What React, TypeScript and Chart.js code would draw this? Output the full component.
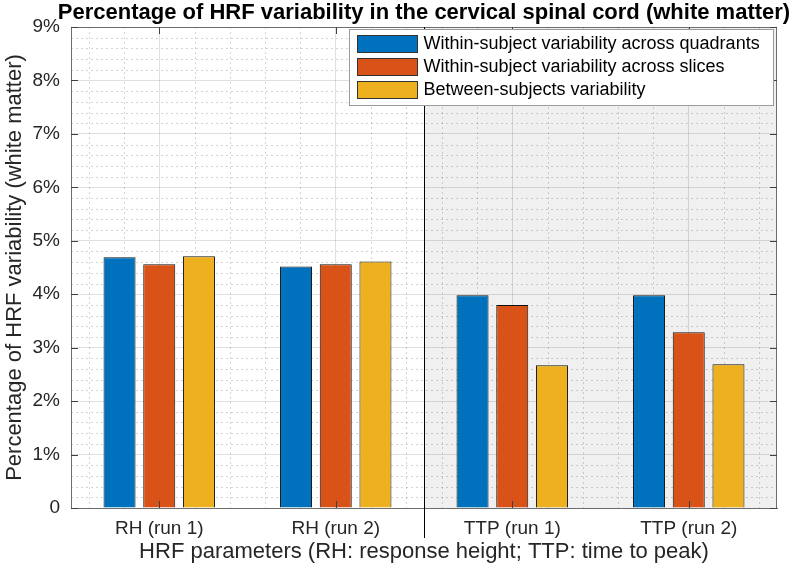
import React, { useEffect, useRef } from 'react';
import { Chart, registerables } from 'chart.js';

Chart.register(...registerables);

const categories = ['RH (run 1)', 'RH (run 2)', 'TTP (run 1)', 'TTP (run 2)'];
const seriesLabels = [
  'Within-subject variability across quadrants',
  'Within-subject variability across slices',
  'Between-subjects variability',
];
const acrossQuadrants = [4.69, 4.52, 3.98, 3.98];
const acrossSlices = [4.56, 4.56, 3.8, 3.29];
const betweenSubjects = [4.71, 4.61, 2.67, 2.69];
const seriesColors = ['#0072BD', '#D95319', '#EDB120'];
const yMin = 0;
const yMax = 9;
const shadeStart = 1.5; // boundary between RH and TTP groups (category units)
const chartTitle = 'Percentage of HRF variability in the cervical spinal cord (white matter)';

const FONT = "'Liberation Sans', Arial, Helvetica, sans-serif";
const TEXT = '#262626';
const AXIS = '#6e6e6e';

const decorPlugin = {
  id: 'decor',
  beforeDraw(chart: any) {
    const { ctx, chartArea: a, scales } = chart;
    const x = scales.x;
    const y = scales.y;
    ctx.save();
    ctx.fillStyle = '#ffffff';
    ctx.fillRect(a.left, a.top, a.right - a.left, a.bottom - a.top);
    const sx = x.getPixelForValue(shadeStart);
    ctx.fillStyle = '#f0f0f0';
    ctx.fillRect(sx, a.top, a.right - sx, a.bottom - a.top);
    // minor grid
    ctx.strokeStyle = 'rgba(38,38,38,0.2)';
    ctx.lineWidth = 1;
    ctx.setLineDash([2, 3]);
    for (let k = 1; k < (yMax - yMin) * 5; k++) {
      if (k % 5 === 0) continue;
      const py = Math.round(y.getPixelForValue(yMin + k * 0.2)) + 0.5;
      ctx.beginPath();
      ctx.moveTo(a.left, py);
      ctx.lineTo(a.right, py);
      ctx.stroke();
    }
    for (let k = -2; k <= (categories.length - 1) * 5 + 2; k++) {
      if (k % 5 === 0) continue;
      const px = Math.round(x.getPixelForValue(k * 0.2)) + 0.5;
      ctx.beginPath();
      ctx.moveTo(px, a.top);
      ctx.lineTo(px, a.bottom);
      ctx.stroke();
    }
    ctx.restore();
  },
  afterDraw(chart: any) {
    const { ctx, chartArea: a, scales } = chart;
    const x = scales.x;
    const y = scales.y;
    ctx.save();
    // title centred over the plot area
    ctx.fillStyle = '#000000';
    ctx.font = `bold 22px ${FONT}`;
    ctx.textAlign = 'center';
    ctx.textBaseline = 'alphabetic';
    ctx.fillText(chartTitle, (a.left + a.right) / 2, 19);
    // box top/right
    ctx.strokeStyle = AXIS;
    ctx.lineWidth = 1;
    ctx.beginPath();
    ctx.moveTo(a.left, Math.round(a.top) + 0.5);
    ctx.lineTo(a.right, Math.round(a.top) + 0.5);
    ctx.moveTo(Math.round(a.right) - 0.5, a.top);
    ctx.lineTo(Math.round(a.right) - 0.5, a.bottom);
    ctx.stroke();
    // inward ticks
    ctx.strokeStyle = '#404040';
    ctx.beginPath();
    for (let v = yMin; v <= yMax; v++) {
      const py = Math.round(y.getPixelForValue(v)) + 0.5;
      ctx.moveTo(a.left, py);
      ctx.lineTo(a.left + 7, py);
      ctx.moveTo(a.right, py);
      ctx.lineTo(a.right - 7, py);
    }
    for (let i = 0; i < categories.length; i++) {
      const px = Math.round(x.getPixelForValue(i)) + 0.5;
      ctx.moveTo(px, a.bottom);
      ctx.lineTo(px, a.bottom - 7);
      ctx.moveTo(px, a.top);
      ctx.lineTo(px, a.top + 7);
    }
    ctx.stroke();
    // separator line
    const sx = Math.round(x.getPixelForValue(shadeStart)) + 0.5;
    ctx.strokeStyle = '#000000';
    ctx.beginPath();
    ctx.moveTo(sx, a.top);
    ctx.lineTo(sx, a.bottom + 30);
    ctx.stroke();
    // legend
    const bw = 424;
    const bh = 76;
    const bx = Math.round(a.right - 428) + 0.5;
    const by = Math.round(a.top + 2) + 0.5;
    ctx.fillStyle = '#ffffff';
    ctx.fillRect(bx, by, bw, bh);
    ctx.strokeStyle = '#9a9a9a';
    ctx.strokeRect(bx, by, bw, bh);
    ctx.font = `18px ${FONT}`;
    ctx.textBaseline = 'middle';
    ctx.textAlign = 'left';
    chart.data.datasets.forEach((ds: any, i: number) => {
      const ry = by + 6 + i * 23;
      ctx.fillStyle = ds.backgroundColor;
      ctx.fillRect(bx + 8, ry, 60, 17);
      ctx.strokeStyle = '#333333';
      ctx.strokeRect(bx + 8, ry, 60, 17);
      ctx.fillStyle = '#000000';
      ctx.fillText(ds.label, bx + 74, ry + 9);
    });
    ctx.restore();
  },
};

export default function App() {
  const ref = useRef<HTMLCanvasElement | null>(null);
  useEffect(() => {
    document.body.style.margin = '0';
    const canvas = ref.current;
    if (!canvas) return;
    const values = [acrossQuadrants, acrossSlices, betweenSubjects];
    const chart = new Chart(canvas, {
      type: 'bar',
      data: {
        labels: categories,
        datasets: values.map((d, i) => ({
          label: seriesLabels[i],
          data: d,
          backgroundColor: seriesColors[i],
          borderColor: '#111111',
          borderWidth: 1,
          categoryPercentage: 0.675,
          barPercentage: 0.806,
        })),
      },
      options: {
        responsive: false,
        animation: false,
        devicePixelRatio: 1,
        layout: { padding: { left: 0, right: 14, top: 27, bottom: 0 } },
        plugins: {
          legend: { display: false },
          tooltip: { enabled: false },
          title: { display: false },
        },
        scales: {
          x: {
            type: 'category',
            offset: true,
            grid: { offset: false, color: 'rgba(38,38,38,0.15)', drawTicks: false },
            border: { display: true, color: AXIS },
            ticks: { color: TEXT, font: { family: FONT, size: 19 }, padding: 9 },
            title: {
              display: true,
              text: 'HRF parameters (RH: response height; TTP: time to peak)',
              color: TEXT,
              font: { family: FONT, size: 22 },
              padding: { top: 0, bottom: 7 },
            },
            afterFit: (s: any) => {
              s.height = 64;
            },
          },
          y: {
            min: yMin,
            max: yMax,
            grid: { color: 'rgba(38,38,38,0.15)', drawTicks: false },
            border: { display: true, color: AXIS },
            ticks: {
              stepSize: 1,
              color: TEXT,
              font: { family: FONT, size: 19 },
              padding: 11,
              callback: (v: any) => (Number(v) === 0 ? '0' : `${v}%`),
            },
            title: {
              display: true,
              text: 'Percentage of HRF variability (white matter)',
              color: TEXT,
              font: { family: FONT, size: 22 },
              padding: { top: 2, bottom: 0 },
            },
            afterFit: (s: any) => {
              s.width = 71;
            },
          },
        },
      },
      plugins: [decorPlugin],
    } as any);
    return () => chart.destroy();
  }, []);
  return (
    <div style={{ width: 791, height: 572 }}>
      <canvas ref={ref} width={791} height={572} style={{ display: 'block' }} />
    </div>
  );
}
